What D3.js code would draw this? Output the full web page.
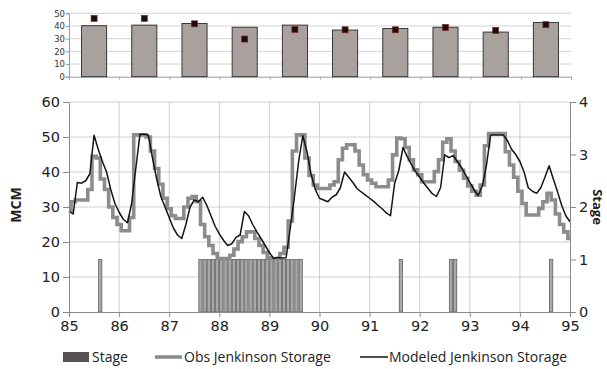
<!DOCTYPE html>
<html><head><meta charset="utf-8">
<script src="https://cdn.jsdelivr.net/npm/d3@7"></script>
<style>body{margin:0;background:#fff;overflow:hidden}</style>
</head><body>
<svg id="c" width="607" height="369"></svg>
<script>
// ---------- DATA ----------
const yearTicks = [85,86,87,88,89,90,91,92,93,94,95];
const mcmTicks = [0,10,20,30,40,50,60];
const stageTicks = [0,1,2,3,4];
const topTicks = [0,10,20,30,40,50];
const topCategories = ["85","86","87","88","89","90","91","92","93","94"];
const topBars = [40.2,40.7,42,39,40.7,36.8,38,39,35.2,42.8];
const topMarkers = [46,46,41.7,29.7,37.3,37,37,38.9,36.5,41];
// monthly values, month 0 = start of year 85
const obsStorage = [29,31.5,32,32,32,35,44.5,44,38,35,30,27,25,23.2,23.2,27,50.6,50.6,50.6,50,
  46,41,36.5,32.5,29.5,27.5,26.7,26.7,30,32.5,33,31.5,25,21.5,19,16.7,15.3,15.3,15.3,16.2,
  18,20.1,21.5,22.9,22.9,21,19,17,15.5,15.3,15.3,16.7,18.5,26,46,50.6,50.6,44,39,36.3,
  35.3,35.3,35.3,36.3,37.2,43.5,46.8,47.8,47.8,46,42,39.2,37.7,36.8,35.8,35.8,35.8,37.7,44.9,49.7,
  49.5,47,43.5,40.6,39.2,37.2,37.2,37.2,40.1,43.5,48.5,49.5,46,43,40.5,38.2,36,34.5,33.4,36.3,
  47.5,51,51,51,51,45.8,42,38.5,34.5,31,27.7,27.7,27.7,29.6,31.5,33.9,32,28,25,22.9,21];
const modeledStorage = [28.8,28,37,36.8,37.5,39.5,50.5,46.5,43,40,35,31,28.5,26.5,25.5,31,41,50.8,50.8,50.6,
  44,38,33,30,27,24,22,21,25,30,32,31.5,32.8,30.5,27.5,24.5,22.3,20.5,19,19.5,
  21.3,22,28.7,27.5,25,22.9,21,19,17,15.3,15.6,15.4,15.5,24,33,43,50.4,45.8,39.2,35,
  32.5,32,31.5,32.8,33.5,35.5,40,38.5,37,35.3,34.3,33.4,32.5,31.6,30.5,29.5,28.3,27.5,36.8,40.5,
  47,44.4,42.2,40.1,38.5,36.8,35.3,33.8,33,35.5,44.9,44.1,44.7,43,41.3,39.2,37,35,33.3,36,
  42,50.6,50.6,50.6,50.6,49,46.5,45,43,40,35.5,34.5,33.9,35.5,38.5,41.8,38,34.4,30.5,27.5,25.8];
const stage = [0,0,0,0,0,0,0,1,0,0,0,0,0,0,0,0,0,0,0,0,
  0,0,0,0,0,0,0,0,0,0,0,1,1,1,1,1,1,1,1,1,
  1,1,1,1,1,1,1,1,1,1,1,1,1,1,1,1,0,0,0,0,
  0,0,0,0,0,0,0,0,0,0,0,0,0,0,0,0,0,0,0,1,
  0,0,0,0,0,0,0,0,0,0,0,1,1,0,0,0,0,0,0,0,
  0,0,0,0,0,0,0,0,0,0,0,0,0,0,0,1,0,0,0,0];
const legendItems = ["Stage","Obs Jenkinson Storage","Modeled Jenkinson Storage"];

// ---------- CHART ----------
const svg = d3.select("#c");
const tickFont = "DejaVu Sans, Verdana, sans-serif";
const textFont = "Open Sans, sans-serif";

// ===== top chart =====
const xb = d3.scaleBand().domain(topCategories).range([69,571]).paddingInner(0.5).paddingOuter(0.25);
const yb = d3.scaleLinear().domain([0,50]).range([76.7,13.3]);
const gTop = svg.append("g");
gTop.selectAll("line.tg").data(topTicks.slice(1)).join("line")
  .attr("x1",69).attr("x2",571).attr("y1",d=>yb(d)).attr("y2",d=>yb(d))
  .attr("stroke","#c8c8c8").attr("stroke-width",0.8);
const axTop = d3.axisLeft(yb).tickValues(topTicks).tickSize(3).tickPadding(1);
gTop.append("g").attr("transform","translate(69,0)").call(axTop)
  .call(g=>{g.select(".domain").attr("stroke","#999");g.selectAll(".tick line").attr("stroke","#999");
    g.selectAll("text").attr("font-family",tickFont).attr("font-size",8.5).attr("fill","#333");});
const axTopB = d3.axisBottom(d3.scaleLinear().domain([0,10]).range([69,571]))
  .tickValues(d3.range(0,11)).tickSize(3).tickFormat("");
gTop.append("g").attr("transform","translate(0,76.7)").call(axTopB)
  .call(g=>{g.select(".domain").attr("stroke","#999");g.selectAll(".tick line").attr("stroke","#aaa");});
gTop.selectAll("rect.bar").data(topBars).join("rect")
  .attr("x",(d,i)=>xb(topCategories[i])).attr("width",xb.bandwidth())
  .attr("y",d=>yb(d)).attr("height",d=>yb(0)-yb(d))
  .attr("fill","#a9a19e").attr("stroke","#2a2a2a").attr("stroke-width",0.9);
gTop.selectAll("rect.mk").data(topMarkers).join("rect")
  .attr("x",(d,i)=>xb(topCategories[i])+xb.bandwidth()/2-3).attr("width",6)
  .attr("y",d=>yb(d)-3).attr("height",6)
  .attr("fill","#1c0d0b").attr("stroke","#7a2c1c").attr("stroke-width",0.7);

// ===== main chart =====
const L=69,R=570,T=102,B=312;
const xY = d3.scaleLinear().domain([85,95]).range([L,R]);
const xm = m => xY(85 + m/12);
const yL = d3.scaleLinear().domain([0,60]).range([B,T]);
const yR = d3.scaleLinear().domain([0,4]).range([B,T]);
const g = svg.append("g");
// grid
g.selectAll("line.hg").data(mcmTicks.slice(1)).join("line")
  .attr("x1",L).attr("x2",R).attr("y1",d=>yL(d)).attr("y2",d=>yL(d))
  .attr("stroke","#cfcfcf").attr("stroke-width",1);
g.selectAll("line.vg").data(yearTicks.slice(1,-1)).join("line")
  .attr("x1",d=>xY(d)).attr("x2",d=>xY(d)).attr("y1",T).attr("y2",B)
  .attr("stroke","#cfcfcf").attr("stroke-width",1);
// stage bars
const stageIdx = stage.map((v,i)=>({m:i,v})).filter(d=>d.v>0);
g.selectAll("rect.st").data(stageIdx).join("rect")
  .attr("x",d=>xm(d.m)+0.4).attr("width",xm(1)-xm(0)-0.9)
  .attr("y",d=>yR(d.v)).attr("height",d=>yR(0)-yR(d.v))
  .attr("fill","#a8a8a8").attr("stroke","#555").attr("stroke-width",0.7);
// obs line
g.append("path").datum(obsStorage)
  .attr("d",d3.line().x((d,i)=>xm(i)).y(d=>yL(d)).curve(d3.curveStep))
  .attr("fill","none").attr("stroke","#8c8c8c").attr("stroke-width",3.6).attr("stroke-linejoin","miter");
// modeled line
g.append("path").datum(modeledStorage)
  .attr("d",d3.line().x((d,i)=>xm(i)).y(d=>yL(d)))
  .attr("fill","none").attr("stroke","#141414").attr("stroke-width",1.5).attr("stroke-linejoin","round");
// axes
const styleAx = sel => {sel.select(".domain").attr("stroke","#8a8a8a");
  sel.selectAll(".tick line").attr("stroke","#8a8a8a");
  sel.selectAll("text").attr("font-family",tickFont).attr("font-size",14.5).attr("fill","#222");};
g.append("g").attr("transform",`translate(${L},0)`)
  .call(d3.axisLeft(yL).tickValues(mcmTicks).tickSize(6).tickPadding(3).tickSizeOuter(0)).call(styleAx);
g.append("g").attr("transform",`translate(${R},0)`)
  .call(d3.axisRight(yR).tickValues(stageTicks).tickFormat(d3.format("d")).tickSize(6).tickPadding(3).tickSizeOuter(0)).call(styleAx);
g.append("g").attr("transform",`translate(0,${B})`)
  .call(d3.axisBottom(xY).tickValues(yearTicks).tickFormat(d3.format("d")).tickSize(5).tickPadding(4).tickSizeOuter(0)).call(styleAx);
// axis titles
svg.append("text").attr("transform","translate(21,205) rotate(-90)").attr("text-anchor","middle")
  .attr("font-family",textFont).attr("font-weight","bold").attr("font-size",14).attr("fill","#222").text("MCM");
svg.append("text").attr("transform","translate(593,207) rotate(90)").attr("text-anchor","middle")
  .attr("font-family",textFont).attr("font-weight","bold").attr("font-size",13).attr("fill","#222").text("Stage");
// legend
const lg = svg.append("g").attr("font-family",textFont).attr("font-size",14).attr("fill","#222");
const lx = [63,155,360];
lg.append("rect").attr("x",lx[0]).attr("y",352).attr("width",26).attr("height",10).attr("fill","#5a5252");
lg.append("line").attr("x1",lx[1]).attr("x2",lx[1]+27).attr("y1",357).attr("y2",357).attr("stroke","#8c8c8c").attr("stroke-width",3.6);
lg.append("line").attr("x1",lx[2]).attr("x2",lx[2]+28).attr("y1",357).attr("y2",357).attr("stroke","#141414").attr("stroke-width",1.5);
lg.selectAll("text").data(legendItems).join("text")
  .attr("x",(d,i)=>lx[i]+29).attr("y",362).text(d=>d);
</script>
</body></html>
